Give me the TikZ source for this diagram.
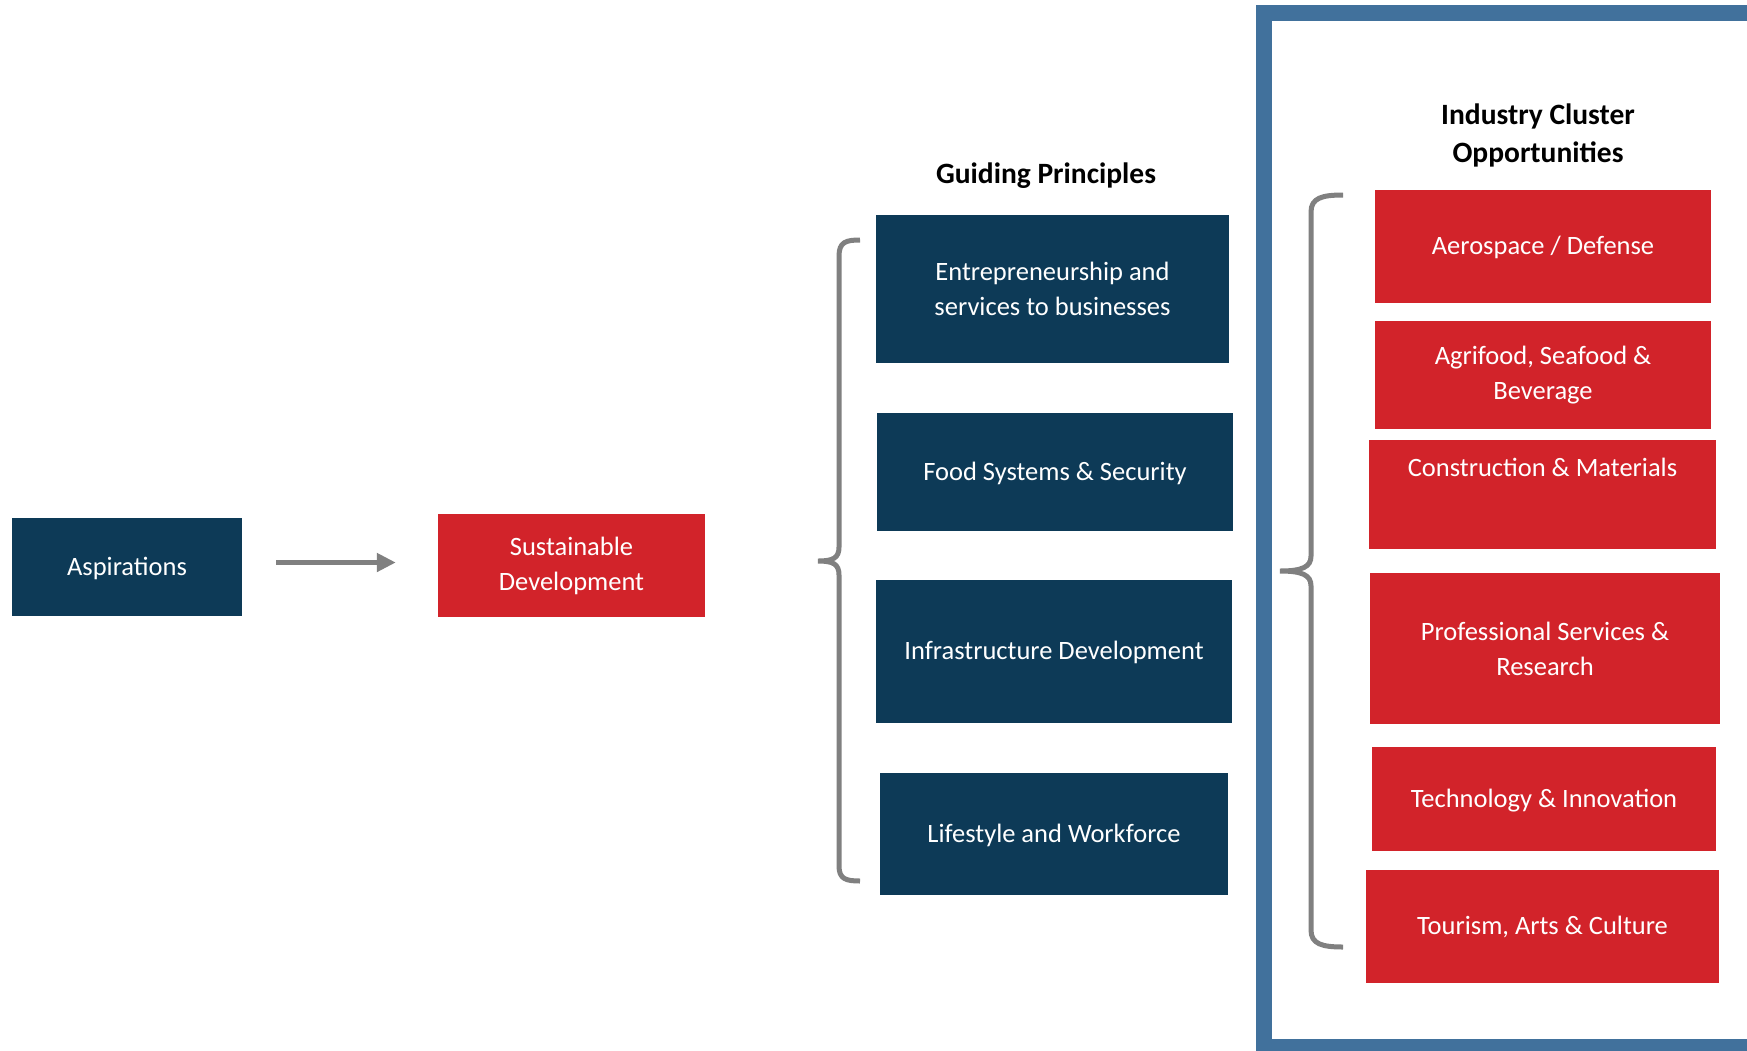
\documentclass[tikz,border=0pt]{standalone}
\usepackage{fontspec}
\setmainfont{Carlito}
\usetikzlibrary{arrows.meta}

\definecolor{navy}{HTML}{0D3A57}
\definecolor{clusterred}{HTML}{D2232A}
\definecolor{frameblue}{HTML}{41719C}
\definecolor{bracegray}{HTML}{808080}

\tikzset{
  box/.style={draw=none,align=center,text=white,inner sep=0pt,font=\fontsize{26.5}{35}\selectfont},
  oneline/.style={execute at begin node={\rule[-6pt]{0pt}{28pt}}},
  navybox/.style={box,fill=navy},
  redbox/.style={box,fill=clusterred},
  title/.style={align=center,font=\bfseries\fontsize{29.5}{38}\selectfont},
  brace/.style={draw=bracegray,line width=5pt},
}

\begin{document}
\begin{tikzpicture}[x=1pt,y=-1pt]
\useasboundingbox (0,0) rectangle (1747,1050);

%Aspirations -> Sustainable development
\node[navybox,oneline,minimum width=230,minimum height=98](A) at (127,567){Aspirations};
\node[redbox,minimum width=267,minimum height=103](SD) at (571.5,565.5){Sustainable\\Development};
\draw[draw=bracegray,line width=5pt,-{Triangle[length=19pt,width=18pt]},shorten <=34pt,shorten >=42pt]
  ([yshift=4.5pt]A.east) -- ([yshift=4.5pt]A.east -| SD.west);

%Guiding principles
\node[title](GP) at (1046,176){Guiding Principles};
\node[navybox,minimum width=353,minimum height=148](GP1) at (1052.5,289){Entrepreneurship and\\services to businesses};
\node[navybox,oneline,minimum width=356,minimum height=118](GP2) at (1055,472){Food Systems \& Security};
\node[navybox,oneline,minimum width=356,minimum height=143](GP3) at (1054,651.5){Infrastructure Development};
\node[navybox,oneline,minimum width=348,minimum height=122](GP4) at (1054,834){Lifestyle and Workforce};
% Brace
\draw[brace] (860,240) .. controls (846,240) and (839,242) .. (839,256) -- (839,547)
  .. controls (839,558) and (833,561) .. (818,561) .. controls (833,561) and (839,564) .. (839,575)
  -- (839,866) .. controls (839,879) and (846,881) .. (860,881);

%Industry cluster opportunities
\draw[draw=frameblue,line width=16pt] (1263.5,13) rectangle (1780,1047);
\node[title](ICO) at (1538,135){Industry Cluster\\Opportunities};
\node[redbox,oneline,minimum width=336,minimum height=113](C1) at (1543,246.5){Aerospace / Defense};
\node[redbox,minimum width=336,minimum height=108](C2) at (1543,375){Agrifood, Seafood \&\\Beverage};
\node[redbox,minimum width=347,minimum height=109](C3) at (1542.5,494.5){};
\node[box,oneline](C3t) at (1542.5,468.5){Construction \& Materials};
\node[redbox,minimum width=350,minimum height=151](C4) at (1545,648.5){Professional Services \&\\Research};
\node[redbox,oneline,minimum width=344,minimum height=104](C5) at (1544,799){Technology \& Innovation};
\node[redbox,oneline,minimum width=353,minimum height=113](C6) at (1542.5,926.5){Tourism, Arts \& Culture};
% Brace
\draw[brace] (1343,195) .. controls (1322,195) and (1311,198) .. (1311,212) -- (1311,556)
  .. controls (1311,567) and (1302,571) .. (1280,571) .. controls (1302,571) and (1311,575) .. (1311,586)
  -- (1311,930) .. controls (1311,944) and (1322,947) .. (1343,947);

\end{tikzpicture}
\end{document}
